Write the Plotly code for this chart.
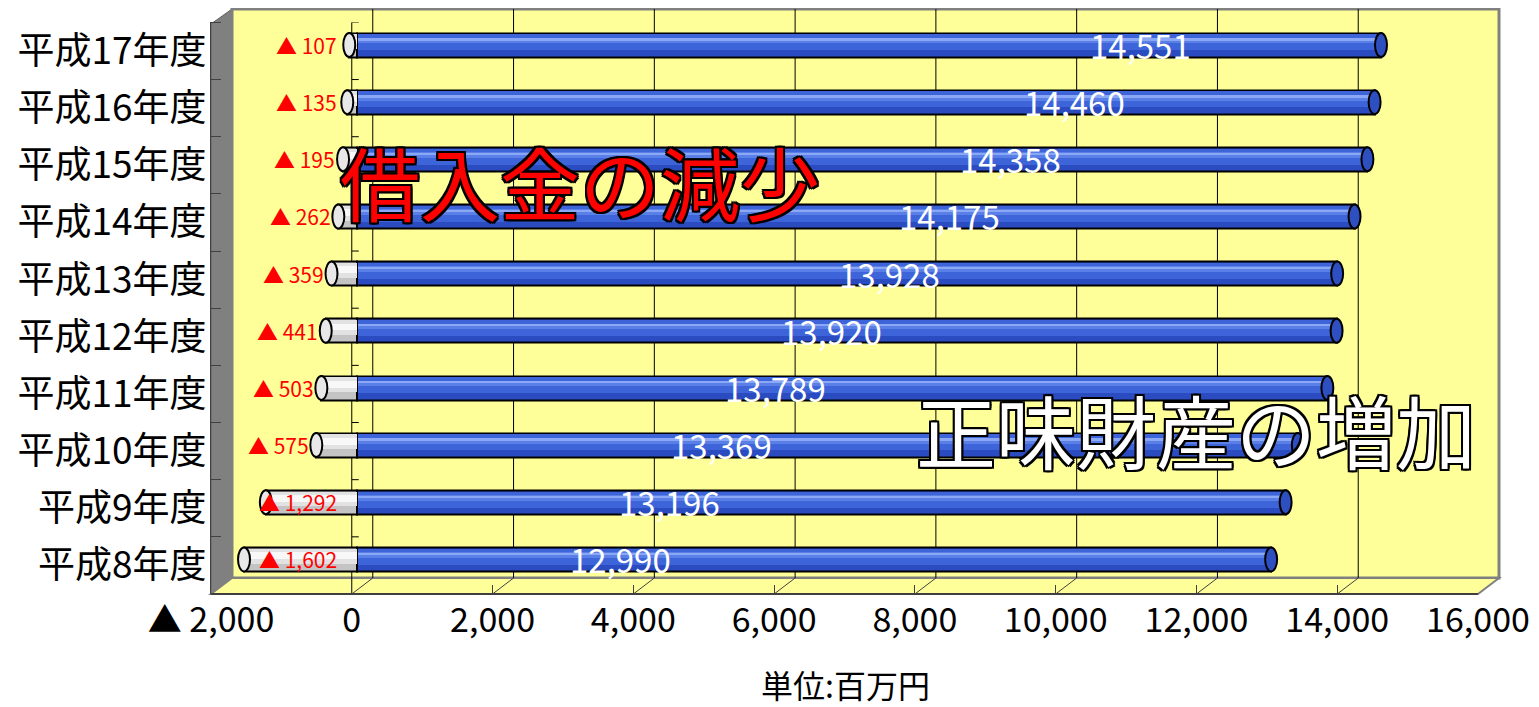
import plotly.graph_objects as go

PAGE_MARGIN = 8                    # default <body> margin of the html page
W, H = 1539 - PAGE_MARGIN, 707 - PAGE_MARGIN
FONT = "Noto Sans CJK JP"

# ---------------- data ----------------
years = ["平成8年度", "平成9年度", "平成10年度", "平成11年度", "平成12年度",
         "平成13年度", "平成14年度", "平成15年度", "平成16年度", "平成17年度"]
net_assets = [12990, 13196, 13369, 13789, 13920, 13928, 14175, 14358, 14460, 14551]
loan_decrease = [-1602, -1292, -575, -503, -441, -359, -262, -195, -135, -107]
x_tickvals = [-2000, 0, 2000, 4000, 6000, 8000, 10000, 12000, 14000, 16000]
x_ticktext = ["▲ 2,000", "0", "2,000", "4,000", "6,000", "8,000",
              "10,000", "12,000", "14,000", "16,000"]
unit_label = "単位:百万円"
big_red = "借入金の減少"
big_white = "正味財産の増加"


def fx(px):
    return (px - PAGE_MARGIN) / W


def fy(py):
    return 1 - (py - PAGE_MARGIN) / H


# geometry (pixels, screen coordinates)
X_L, X_R = 211, 1478          # front axis extent
DEPTH_X, DEPTH_Y = 21, 16     # 3-D depth offset
Y_FRONT = 594
Y_BACK_TOP = 9
Y_TOP = 22.4
scale = (X_R - X_L) / (x_tickvals[-1] - x_tickvals[0])
bar_shift = 5 / scale
row_px = (Y_FRONT - Y_TOP) / len(years)
bar_row_shift = 6 / row_px

fig = go.Figure()

# ---- cylinder-like bars ----
def add_bar(vals, color, width, offset=None, line=None):
    fig.add_trace(go.Bar(
        y=years, x=vals, orientation="h", xaxis="x2", yaxis="y2",
        width=width, offset=offset,
        marker=dict(color=color, line=line or dict(width=0)),
        hoverinfo="skip", showlegend=False,
    ))

add_bar(net_assets, "#2a4cc0", 0.42, -0.21, dict(color="black", width=2))
add_bar(net_assets, "#3d65d9", 0.28, -0.10)
add_bar(net_assets, "#5a80e8", 0.10, 0.02)
add_bar(net_assets, "#8aa8f5", 0.03, 0.08)
add_bar(loan_decrease, "#c4c4c4", 0.42, -0.21, dict(color="black", width=2))
add_bar(loan_decrease, "#e2e2e2", 0.26, -0.08)
add_bar(loan_decrease, "#f8f8f8", 0.12, 0.0)

shapes = []
# side wall
shapes.append(dict(type="path", xref="paper", yref="paper", layer="below",
                   path=f"M {fx(X_L)},{fy(24)} L {fx(X_L+DEPTH_X)},{fy(Y_BACK_TOP)} "
                        f"L {fx(X_L+DEPTH_X)},{fy(Y_FRONT-DEPTH_Y)} L {fx(X_L)},{fy(Y_FRONT)} Z",
                   fillcolor="#808080", line=dict(color="#606060", width=1)))
# back wall
shapes.append(dict(type="rect", xref="paper", yref="paper", layer="below",
                   x0=fx(X_L+DEPTH_X), x1=fx(X_R+DEPTH_X), y0=fy(Y_FRONT-DEPTH_Y), y1=fy(Y_BACK_TOP),
                   fillcolor="#ffff99", line=dict(color="#808080", width=3)))
# floor
shapes.append(dict(type="path", xref="paper", yref="paper", layer="below",
                   path=f"M {fx(X_L)},{fy(Y_FRONT)} L {fx(X_L+DEPTH_X)},{fy(Y_FRONT-DEPTH_Y)} "
                        f"L {fx(X_R+DEPTH_X)},{fy(Y_FRONT-DEPTH_Y)} L {fx(X_R)},{fy(Y_FRONT)} Z",
                   fillcolor="#ffff99", line=dict(color="#808080", width=2)))
# back-wall gridlines and floor diagonals
for v in x_tickvals[1:-1]:
    shapes.append(dict(type="line", xref="x", xsizemode="pixel", xanchor=v,
                       x0=DEPTH_X, x1=DEPTH_X, yref="paper",
                       y0=fy(Y_FRONT-DEPTH_Y), y1=fy(Y_BACK_TOP),
                       layer="below", line=dict(color="black", width=1)))
for v in x_tickvals[1:-1]:
    shapes.append(dict(type="line", xref="x", xsizemode="pixel", xanchor=v,
                       x0=0, x1=DEPTH_X, yref="paper",
                       y0=fy(Y_FRONT), y1=fy(Y_FRONT-DEPTH_Y),
                       layer="below", line=dict(color="#404040", width=1)))
# front zero axis with bracket ticks
shapes.append(dict(type="line", xref="x", x0=0, x1=0, yref="paper",
                   y0=fy(Y_FRONT), y1=fy(Y_TOP), layer="below",
                   line=dict(color="black", width=1)))
for k in range(len(years) + 1):
    shapes.append(dict(type="line", xref="x", xsizemode="pixel", xanchor=0,
                       x0=0, x1=7, yref="y", y0=k - 0.5, y1=k - 0.5,
                       layer="below", line=dict(color="black", width=1)))
# cylinder end caps
cap = 85
for i, v in enumerate(net_assets):
    shapes.append(dict(type="circle", xref="x2", yref="y2",
                       x0=v - cap, x1=v + cap, y0=i - 0.21, y1=i + 0.21,
                       fillcolor="#2e4fbf", line=dict(color="black", width=2)))
for i, v in enumerate(loan_decrease):
    shapes.append(dict(type="circle", xref="x2", yref="y2",
                       x0=v - cap, x1=v + cap, y0=i - 0.21, y1=i + 0.21,
                       fillcolor="#e8e8e8", line=dict(color="black", width=2)))

annotations = []
for i, v in enumerate(net_assets):
    px = 620 + 48.9 * i + 0.99 * i * i
    annotations.append(dict(xref="paper", x=fx(px), xanchor="center",
                            yref="y2", y=i, yanchor="middle",
                            text=f"{v:,}", showarrow=False,
                            font=dict(family=FONT, size=33, color="white")))
for i, v in enumerate(loan_decrease):
    lx = -256 if v < -1000 else min(-256, v - 80)
    annotations.append(dict(xref="x2", x=lx, xanchor="right",
                            yref="y2", y=i, yanchor="middle",
                            text=f"▲ {abs(v):,}", showarrow=False,
                            font=dict(family=FONT, size=21, color="red")))

outline = ", ".join(f"{a}px {b}px 0 #000" for a, b in
                    [(-2, -2), (2, -2), (-2, 2), (2, 2), (0, 2), (0, -2), (2, 0), (-2, 0)])
annotations.append(dict(xref="paper", yref="paper", x=fx(580), y=fy(180),
                        xanchor="center", yanchor="middle",
                        text=big_red, showarrow=False,
                        font=dict(family=FONT, size=80, color="red", shadow=outline)))
annotations.append(dict(xref="paper", yref="paper", x=fx(1196), y=fy(428),
                        xanchor="center", yanchor="middle",
                        text=big_white, showarrow=False,
                        font=dict(family=FONT, size=80, color="white", shadow=outline)))
annotations.append(dict(xref="paper", yref="paper", x=fx(845), y=fy(684),
                        xanchor="center", yanchor="middle",
                        text=unit_label, showarrow=False,
                        font=dict(family=FONT, size=32, color="black")))

fig.update_layout(
    width=W, height=H,
    margin=dict(l=0, r=0, t=0, b=0, autoexpand=False),
    paper_bgcolor="white", plot_bgcolor="rgba(0,0,0,0)",
    barmode="overlay", bargap=0,
    font=dict(family=FONT, color="black"),
    showlegend=False,
    xaxis=dict(domain=[fx(X_L), fx(X_R)], range=[x_tickvals[0], x_tickvals[-1]],
               tickvals=x_tickvals, ticktext=x_ticktext,
               tickfont=dict(size=34, color="black"),
               showgrid=False, zeroline=False, automargin=False,
               showline=True, linecolor="#404040", linewidth=2,
               ticks="inside", ticklen=8, tickcolor="#404040",
               anchor="free", position=fy(Y_FRONT), ticklabelstandoff=-4,
               fixedrange=True),
    xaxis2=dict(overlaying="x", range=[x_tickvals[0] - bar_shift, x_tickvals[-1] - bar_shift],
                visible=False, fixedrange=True, automargin=False),
    yaxis=dict(domain=[fy(Y_FRONT), fy(Y_TOP)], range=[-0.5, len(years) - 0.5],
               tickvals=list(range(len(years))), ticktext=years,
               tickfont=dict(size=37, color="black"),
               showgrid=False, zeroline=False, showline=True, automargin=False,
               linecolor="#404040", linewidth=1, ticks="",
               minor=dict(tick0=-0.5, dtick=1, ticks="inside", ticklen=10, tickcolor="#404040"),
               anchor="x", ticklabelstandoff=-4, fixedrange=True),
    yaxis2=dict(overlaying="y", type="category", categoryorder="array", categoryarray=years,
                range=[-0.5 - bar_row_shift, len(years) - 0.5 - bar_row_shift],
                visible=False, fixedrange=True, automargin=False),
    shapes=shapes,
    annotations=annotations,
)

fig.write_html("out.html")
